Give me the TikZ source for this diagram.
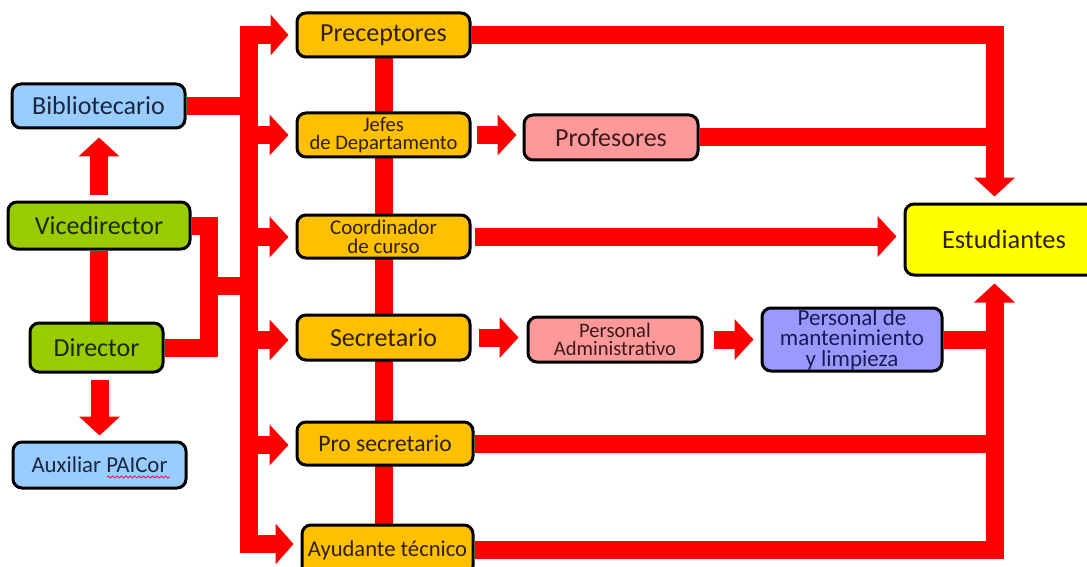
\documentclass[tikz,border=0pt]{standalone}
\usepackage{fontspec}
\setmainfont{Carlito}
\usetikzlibrary{arrows.meta,backgrounds,calc,decorations.pathmorphing}
\definecolor{redc}{HTML}{FF0000}
\definecolor{bluef}{HTML}{99CCFF}
\definecolor{greenf}{HTML}{99CC00}
\definecolor{orangef}{HTML}{FFC000}
\definecolor{pinkf}{HTML}{FF9999}
\definecolor{purplef}{HTML}{9999FF}
\definecolor{yellowf}{HTML}{FFFF00}
\definecolor{navyt}{HTML}{1A2740}
\definecolor{greent}{HTML}{1C2600}
\definecolor{brownt}{HTML}{2E2000}
\definecolor{pinkt}{HTML}{3A1A1A}
\definecolor{purplet}{HTML}{1A1A55}
\begin{document}
\begin{tikzpicture}[x=0.5pt,y=-0.5pt,
  box/.style={draw=black, line width=1.5pt, rounded corners=4.5pt, inner sep=0pt, align=center},
  bbox/.style={box, fill=bluef, text=navyt},
  gbox/.style={box, fill=greenf, text=greent},
  obox/.style={box, fill=orangef, text=brownt, minimum width=86.5pt},
  pbox/.style={box, fill=pinkf, text=pinkt},
  f13/.style={font=\fontsize{13pt}{15pt}\selectfont},
  bar/.style={draw=redc, line width=9pt, line join=miter},
  arr/.style={bar, -{Triangle[length=9.5pt,width=20pt]}},
  darr/.style={bar, {Triangle[length=9pt,width=20pt]}-{Triangle[length=9pt,width=20pt]}}
]
\useasboundingbox (0,0) rectangle (1087,567);
\clip (0,0) rectangle (1087,567);

% left column
\node[bbox, f13, minimum width=86.5pt, minimum height=22pt] (bib) at (98.5,106) {Bibliotecario};
\node[gbox, f13, minimum width=91pt, minimum height=23.5pt] (vice) at (99,225.5) {Vicedirector};
\node[gbox, f13, minimum width=66.5pt, minimum height=24.5pt] (dir) at (96.5,347.5) {Director};
\node[bbox, font=\fontsize{11.4pt}{13pt}\selectfont, minimum width=86.5pt, minimum height=23pt] (aux) at (99.5,465) {Auxiliar PAICor};

% orange column
\node[obox, f13, minimum height=22pt] (prec) at (383.5,35) {Preceptores};
\node[obox, font=\fontsize{10.3pt}{9.4pt}\selectfont, minimum height=22pt] (jefes) at (383.5,135) {Jefes\\de Departamento};
\node[obox, font=\fontsize{10.5pt}{9.4pt}\selectfont, minimum height=21.5pt] (coord) at (383.5,236.5) {Coordinador\\de curso};
\node[obox, f13, minimum height=22.5pt] (sec) at (383.5,337.5) {Secretario};
\node[obox, font=\fontsize{11.8pt}{13pt}\selectfont, minimum width=88pt, minimum height=21.5pt] (prosec) at (385,443.5) {Pro secretario};
\node[obox, font=\fontsize{11.3pt}{13pt}\selectfont, minimum width=85.5pt, minimum height=25pt] (ayud) at (387.5,550) {Ayudante técnico};

% middle / right
\node[pbox, f13, minimum width=87pt, minimum height=22.5pt] (prof) at (611,137.5) {Profesores};
\node[pbox, font=\fontsize{10.3pt}{9.2pt}\selectfont, minimum width=87pt, minimum height=22.5pt] (padm) at (615,339.5) {Personal\\Administrativo};
\node[box, fill=purplef, text=purplet, font=\fontsize{11.5pt}{10.2pt}\selectfont, minimum width=90pt, minimum height=31.5pt] (mant) at (852,339.5) {Personal de\\mantenimiento\\y limpieza};
\node[box, fill=yellowf, text=brownt, font=\fontsize{13.2pt}{15pt}\selectfont, minimum width=99pt, minimum height=35.5pt] (est) at (1004,239.5) {Estudiantes};

% spell-check squiggle under PAICor
\draw[redc!70!magenta, line width=0.4pt, decorate, decoration={snake, segment length=2.2pt, amplitude=0.5pt}]
  ($(aux.center)+(7.5,12)$) -- ($(aux.center)+(70.5,12)$);

\coordinate (t1) at (249,35);
\coordinate (t2) at (249,135);
\coordinate (t3) at (249,237);
\coordinate (t4) at (249,340);
\coordinate (t5) at (249,445);
\coordinate (t6) at (249,544);
\coordinate (jn) at (209,286);
\coordinate (rt) at (994.5,35);

\begin{scope}[on background layer]
% left trunk with top and bottom arrows
\draw[darr, shorten <=3.5pt, shorten >=3.5pt] (prec.west) -- (t1) -- (t6) -- (ayud.west |- t6);
\draw[arr, shorten >=3.5pt] (t2) -- (jefes.west);
\draw[arr, shorten >=3.5pt] (t3) -- (coord.west |- t3);
\draw[arr, shorten >=3.5pt] (t4) -- (sec.west |- t4);
\draw[arr, shorten >=3.5pt] (t5) -- (prosec.west |- t5);
% left side
\draw[bar] (bib.east) -- (bib.east -| t1);
\draw[bar] (vice.east) -- (vice.east -| jn) -- (dir.east -| jn) -- (dir.east);
\draw[bar] (jn) -- (jn -| t1);
\draw[arr, shorten <=3pt, shorten >=4pt] (vice.north) -- (vice.north |- bib.south);
\draw[bar] (vice.south) -- (vice.south |- dir.north);
\draw[arr, shorten <=3pt, shorten >=2.5pt] (aux.north |- dir.south) -- (aux.north);
% orange column spine
\draw[bar] (prec.south) -- (prec.south |- ayud.north);
% middle arrows
\draw[arr, shorten <=2.5pt, shorten >=3pt] (jefes.east) -- (prof.west |- jefes.east);
\draw[arr, shorten <=3.5pt, shorten >=4pt] (sec.east) -- (padm.west |- sec.east);
\draw[arr, shorten <=5pt, shorten >=3.5pt] (padm.east) -- (mant.west);
% right side
\draw[arr, shorten >=3pt] (prec.east) -- (prec.east -| rt) -- (rt |- est.north);
\draw[bar] (prof.east) -- (prof.east -| rt);
\draw[arr, shorten <=1.5pt, shorten >=3.5pt] (coord.east) -- (est.west |- coord.east);
\draw[bar] (mant.east) -- (mant.east -| rt);
\draw[bar] (prosec.east) -- (prosec.east -| rt);
\draw[arr, shorten >=3.5pt] (ayud.east) -- (ayud.east -| rt) -- (rt |- est.south);
\end{scope}
\end{tikzpicture}
\end{document}
